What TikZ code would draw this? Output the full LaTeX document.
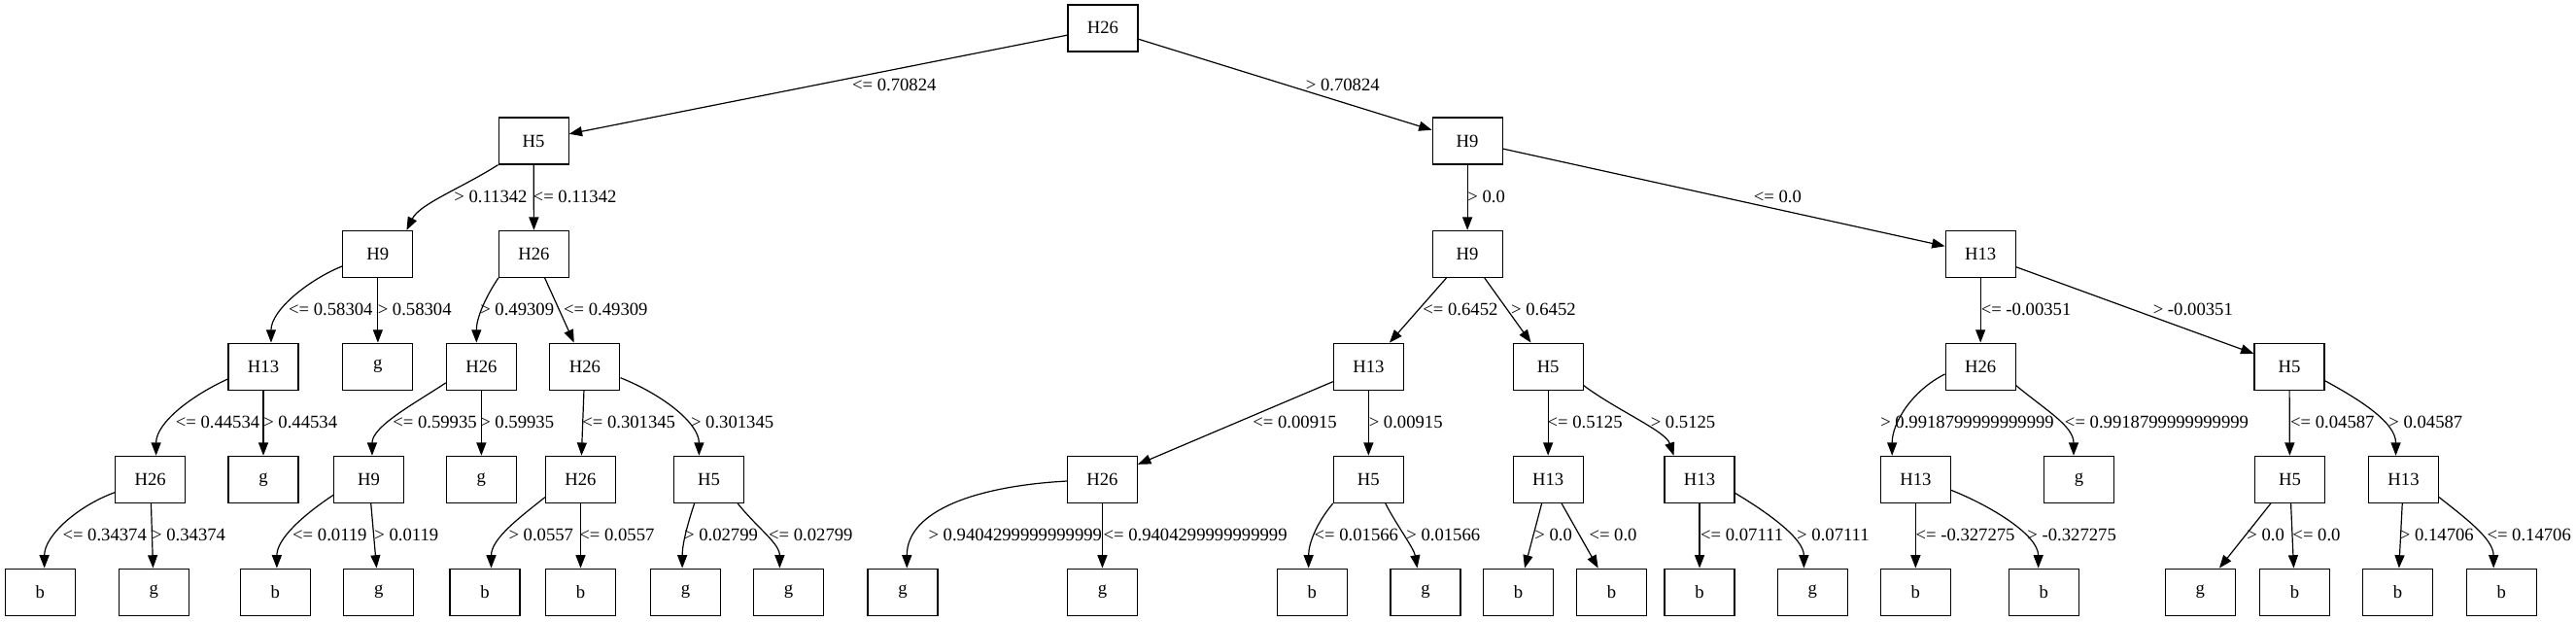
\documentclass[tikz,border=0pt]{standalone}
\usepackage{fontspec}
\setmainfont{Liberation Serif}
\usetikzlibrary{arrows.meta,calc}
\begin{document}
\begin{tikzpicture}[x=1.268pt,y=-1.268pt,
  box/.style={draw,line width=0.9pt,minimum width=54pt,minimum height=36pt,inner sep=0pt,font=\fontsize{14}{16}\selectfont},
  edge/.style={line width=0.9pt,-{Triangle[length=10pt,width=7.5pt]}},
  lbl/.style={anchor=west,inner sep=0pt,font=\fontsize{14}{16}\selectfont}]
\fill[white] (0,0) rectangle (1568,377.96);
\useasboundingbox (0,0) rectangle (1568,377.96);
% level 0-2
\node[box] (R) at (671.3,17.1) {H26};
\node[box] (a) at (324.8,85.8) {H5};
\node[box] (b) at (893.2,85.8) {H9};
\node[box] (aa) at (230,154.6) {H9};
\node[box] (ab) at (325,154.6) {H26};
\node[box] (ba) at (893.2,154.6) {H9};
\node[box] (bb) at (1205.5,154.6) {H13};
% level 3
\node[box] (aaa) at (160.3,223.1) {H13};
\node[box] (aab) at (230,223.1) {g};
\node[box] (aba) at (293,223.1) {H26};
\node[box] (abb) at (356,223.1) {H26};
\node[box] (baa) at (833,223.1) {H13};
\node[box] (bab) at (942.3,223.1) {H5};
\node[box] (bba) at (1205.5,223.1) {H26};
\node[box] (bbb) at (1393.5,223.1) {H5};
% level 4
\node[box] (aaaa) at (91.5,291.8) {H26};
\node[box] (aaab) at (160.3,291.8) {g};
\node[box] (abaa) at (224.5,291.8) {H9};
\node[box] (abab) at (293,291.8) {g};
\node[box] (abba) at (353.4,291.8) {H26};
\node[box] (abbb) at (431.5,291.8) {H5};
\node[box] (baaa) at (671,291.8) {H26};
\node[box] (baab) at (833,291.8) {H5};
\node[box] (baba) at (942.3,291.8) {H13};
\node[box] (babb) at (1034.5,291.8) {H13};
\node[box] (bbaa) at (1166,291.8) {H13};
\node[box] (bbab) at (1265.5,291.8) {g};
\node[box] (bbba) at (1393.8,291.8) {H5};
\node[box] (bbbb) at (1463,291.8) {H13};
% level 5
\node[box] (aaaaa) at (24.4,360.3) {b};
\node[box] (aaaab) at (93.6,360.3) {g};
\node[box] (abaaa) at (167.6,360.3) {b};
\node[box] (abaab) at (230.5,360.3) {g};
\node[box] (abbaa) at (295.2,360.3) {b};
\node[box] (abbab) at (353.4,360.3) {b};
\node[box] (abbba) at (417.3,360.3) {g};
\node[box] (abbbb) at (480,360.3) {g};
\node[box] (baaaa) at (549.5,360.3) {g};
\node[box] (baaab) at (671,360.3) {g};
\node[box] (baaba) at (798.6,360.3) {b};
\node[box] (baabb) at (867.7,360.3) {g};
\node[box] (babaa) at (924.2,360.3) {b};
\node[box] (babab) at (981,360.3) {b};
\node[box] (babba) at (1034.5,360.3) {b};
\node[box] (babbb) at (1103.2,360.3) {g};
\node[box] (bbaaa) at (1166,360.3) {b};
\node[box] (bbaab) at (1244,360.3) {b};
\node[box] (bbbaa) at (1339.3,360.3) {g};
\node[box] (bbbab) at (1396.8,360.3) {b};
\node[box] (bbbba) at (1459.5,360.3) {b};
\node[box] (bbbbb) at (1522.6,360.3) {b};
% edges
\draw[edge] (R) -- (a);
\draw[edge] (R) -- (b);
\draw[edge] (a.south west) .. controls +(-22,14) and +(8,-16) .. ($(aa.north)+(17.5,0)$);
\draw[edge] (a) -- (ab);
\draw[edge] (b) -- (ba);
\draw[edge] (b) -- (bb);
\draw[edge] ($(aa.west)+(0,7.4)$) .. controls +(-20,8) and +(0,-20) .. ($(aaa.north)+(4.7,0)$);
\draw[edge] (aa) -- (aab);
\draw[edge] (ab.south west) .. controls +(-8,12) and +(0,-15) .. ($(aba.north)+(-3,0)$);
\draw[edge] (ab) -- (abb);
\draw[edge] (ba) -- (baa);
\draw[edge] (ba) -- (bab);
\draw[edge] (bb) -- (bba);
\draw[edge] (bb) -- (bbb);
\draw[edge] ($(aaa.west)+(0,7.6)$) .. controls +(-22,10) and +(0,-20) .. ($(aaaa.north)+(3.5,0)$);
\draw[edge] (aaa) -- (aaab);
\draw[edge] ($(aba.west)+(0,9.9)$) .. controls +(-18,12) and +(0,-18) .. ($(abaa.north)+(2,0)$);
\draw[edge] (aba) -- (abab);
\draw[edge] (abb) -- (abba);
\draw[edge] ($(abb.east)+(0,6.8)$) .. controls +(25,10) and +(0,-20) .. ($(abbb.north)+(-6,0)$);
\draw[edge] (baa) -- (baaa);
\draw[edge] (baa) -- (baab);
\draw[edge] (bab) -- (baba);
\draw[edge] ($(bab.east)+(0,11.5)$) .. controls +(20,15) and +(-5,-15) .. ($(babb.north)+(-15.7,0)$);
\draw[edge] ($(bba.west)+(0,4.6)$) .. controls +(-20,10) and +(0,-20) .. ($(bbaa.north)+(-14.3,0)$);
\draw[edge] ($(bba.east)+(0,11.5)$) .. controls +(18,15) and +(0,-18) .. ($(bbab.north)+(-3.3,0)$);
\draw[edge] (bbb) -- (bbba);
\draw[edge] ($(bbb.east)+(0,8.6)$) .. controls +(22,12) and +(0,-20) .. ($(bbbb.north)+(-4.7,0)$);
\draw[edge] ($(aaaa.west)+(0,7.9)$) .. controls +(-22,8) and +(0,-20) .. ($(aaaaa.north)+(2.6,0)$);
\draw[edge] (aaaa) -- (aaaab);
\draw[edge] ($(abaa.west)+(0,9.5)$) .. controls +(-18,12) and +(0,-18) .. ($(abaaa.north)+(0.9,0)$);
\draw[edge] (abaa) -- (abaab);
\draw[edge] ($(abba.west)+(0,10.8)$) .. controls +(-15,12) and +(0,-18) .. ($(abbaa.north)+(3.8,0)$);
\draw[edge] (abba) -- (abbab);
\draw[edge] ($(abbb.south)+(-8.8,0)$) .. controls +(-4,12) and +(0,-15) .. ($(abbba.north)+(-2,0)$);
\draw[edge] ($(abbb.south)+(17.5,0)$) .. controls +(12,15) and +(0,-15) .. ($(abbbb.north)+(-5.4,0)$);
\draw[edge] ($(baaa.west)+(0,1)$) .. controls +(-55,3) and +(0,-35) .. ($(baaaa.north)+(2.5,0)$);
\draw[edge] (baaa) -- (baaab);
\draw[edge] (baab.south west) .. controls +(-10,12) and +(0,-15) .. ($(baaba.north)+(-2.1,0)$);
\draw[edge] ($(baab.south)+(10.3,0)$) .. controls +(6,12) and +(-2,-12) .. ($(baabb.north)+(-5,0)$);
\draw[edge] (baba) -- (babaa);
\draw[edge] (baba) -- (babab);
\draw[edge] (babb) -- (babba);
\draw[edge] ($(babb.east)+(0,8.3)$) .. controls +(20,12) and +(0,-18) .. ($(babbb.north)+(-5.2,0)$);
\draw[edge] (bbaa) -- (bbaaa);
\draw[edge] ($(bbaa.east)+(0,6.5)$) .. controls +(25,10) and +(0,-20) .. ($(bbaab.north)+(-3.3,0)$);
\draw[edge] (bbba) -- (bbbaa);
\draw[edge] (bbba) -- (bbbab);
\draw[edge] (bbbb) -- (bbbba);
\draw[edge] ($(bbbb.east)+(0,10.8)$) .. controls +(15,12) and +(0,-18) .. ($(bbbbb.north)+(-4.8,0)$);
% labels
\node[lbl] (l1) at (518.6,51.7) {<= 0.70824};
\node[lbl] (l2) at (794.7,51.7) {> 0.70824};
\node[lbl] (l3) at (276.3,119.7) {> 0.11342};
\node[lbl] (l4) at (324.4,119.7) {<= 0.11342};
\node[lbl] (l5) at (893.2,119.7) {> 0.0};
\node[lbl] (l6) at (1067.4,119.7) {<= 0.0};
\node[lbl] (l7) at (175.6,188.3) {<= 0.58304};
\node[lbl] (l8) at (229.8,188.3) {> 0.58304};
\node[lbl] (l9) at (292.2,188.3) {> 0.49309};
\node[lbl] (l10) at (343,188.3) {<= 0.49309};
\node[lbl] (l11) at (866,188.3) {<= 0.6452};
\node[lbl] (l12) at (919.7,188.3) {> 0.6452};
\node[lbl] (l13) at (1205.7,188.3) {<= -0.00351};
\node[lbl] (l14) at (1310.4,188.3) {> -0.00351};
\node[lbl] (l15) at (106.8,256.9) {<= 0.44534};
\node[lbl] (l16) at (160.3,256.9) {> 0.44534};
\node[lbl] (l17) at (239,256.9) {<= 0.59935};
\node[lbl] (l18) at (292.2,256.9) {> 0.59935};
\node[lbl] (l19) at (354.3,256.9) {<= 0.301345};
\node[lbl] (l20) at (420.4,256.9) {> 0.301345};
\node[lbl] (l21) at (762.5,256.9) {<= 0.00915};
\node[lbl] (l22) at (833.1,256.9) {> 0.00915};
\node[lbl] (l23) at (941.8,256.9) {<= 0.5125};
\node[lbl] (l24) at (1004.6,256.9) {> 0.5125};
\node[lbl] (l25) at (1144.5,256.9) {> 0.9918799999999999};
\node[lbl] (l26) at (1256.7,256.9) {<= 0.9918799999999999};
\node[lbl] (l27) at (1394,256.9) {<= 0.04587};
\node[lbl] (l28) at (1453.9,256.9) {> 0.04587};
\node[lbl] (l29) at (38,325.3) {<= 0.34374};
\node[lbl] (l30) at (92.2,325.3) {> 0.34374};
\node[lbl] (l31) at (178,325.3) {<= 0.0119};
\node[lbl] (l32) at (227.8,325.3) {> 0.0119};
\node[lbl] (l33) at (309.5,325.3) {> 0.0557};
\node[lbl] (l34) at (352.6,325.3) {<= 0.0557};
\node[lbl] (l35) at (416.3,325.3) {> 0.02799};
\node[lbl] (l36) at (467.8,325.3) {<= 0.02799};
\node[lbl] (l37) at (565,325.3) {> 0.9404299999999999};
\node[lbl] (l38) at (671.5,325.3) {<= 0.9404299999999999};
\node[lbl] (l39) at (799.9,325.3) {<= 0.01566};
\node[lbl] (l40) at (855.9,325.3) {> 0.01566};
\node[lbl] (l41) at (934,325.3) {> 0.0};
\node[lbl] (l42) at (967.2,325.3) {<= 0.0};
\node[lbl] (l43) at (1035,325.3) {<= 0.07111};
\node[lbl] (l44) at (1093.6,325.3) {> 0.07111};
\node[lbl] (l45) at (1166,325.3) {<= -0.327275};
\node[lbl] (l46) at (1233.9,325.3) {> -0.327275};
\node[lbl] (l47) at (1367.5,325.3) {> 0.0};
\node[lbl] (l48) at (1395.4,325.3) {<= 0.0};
\node[lbl] (l49) at (1460.7,325.3) {> 0.14706};
\node[lbl] (l50) at (1513.7,325.3) {<= 0.14706};
\end{tikzpicture}
\end{document}
